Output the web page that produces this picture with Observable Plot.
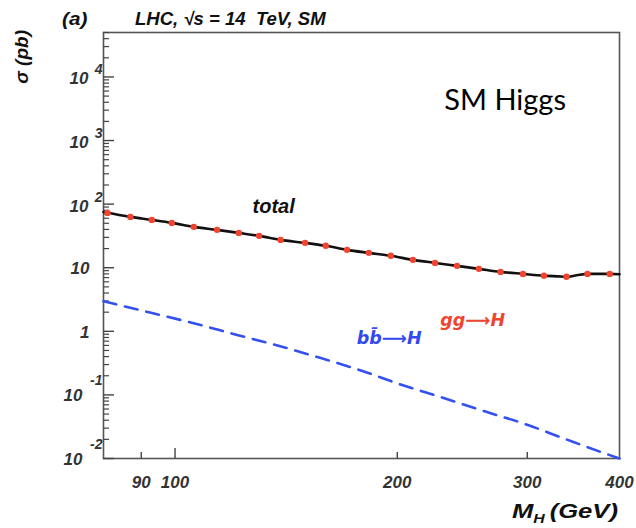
<!DOCTYPE html>
<html><head><meta charset="utf-8">
<script src="https://cdn.jsdelivr.net/npm/d3@7"></script>
<script src="https://cdn.jsdelivr.net/npm/@observablehq/plot@0.6"></script>
<style>
body{margin:0;background:#fff;}
#chart{width:636px;height:528px;}
</style></head><body><div id="chart"></div>
<script>
// ---- data ----
const totalMass = [80, 87, 93, 99, 106, 114, 122, 130, 139, 150, 160, 171, 183, 196, 210, 225, 241, 258, 276, 296, 316, 330, 339, 350, 362, 388, 400];
const totalXsec = [75, 63.0, 56.5, 50.7, 43.9, 39.4, 35.3, 31.7, 27.4, 24.6, 22.1, 19.1, 17.1, 15.4, 13.3, 11.9, 10.7, 9.6, 8.6, 8.0, 7.5, 7.3, 7.2, 7.6, 8.0, 8.0, 7.9];
const ggMass = [81, 87, 93, 99, 106, 114, 122, 130, 139, 150, 160, 171, 183, 196, 210, 225, 241, 258, 276, 296, 316, 339, 362, 388];
const ggXsec = [72.8, 63.0, 56.5, 50.7, 43.9, 39.4, 35.3, 31.7, 27.4, 24.6, 22.1, 19.1, 17.1, 15.4, 13.3, 11.9, 10.7, 9.6, 8.6, 8.0, 7.5, 7.2, 8.0, 8.0];
const bbMass = [80, 92.5, 106, 121, 138, 158, 179, 202, 230, 262, 297, 338, 388, 400];
const bbXsec = [2.97, 1.97, 1.34, 0.885, 0.594, 0.376, 0.240, 0.146, 0.091, 0.0557, 0.0353, 0.0202, 0.0113, 0.0100];

const xTickValues = [90, 100, 200, 300, 400];
const xTickLabels = ["90", "100", "200", "300", "400"];
const xTickLong = [100];
const xTickShort = [90, 200, 300];

const yDecades = [0.01, 0.1, 1, 10, 100, 1000, 10000];
const yTickBase = ["10", "10", "1", "10", "10", "10", "10"];
const yTickExp = ["-2", "-1", "", "", "2", "3", "4"];

const annotText = ["total", "gg\u27F6H", "bb\u0304\u27F6H", "SM Higgs"];
const annotMass = [136, 253, 195, 280];
const annotXsec = [90, 1.47, 0.77, 4170];

const titleTag = "(a)";
const titleText = "LHC, \u221As = 14  TeV, SM";
const yLabel = "\u03C3 (pb)";

// ---- tables ----
const total = totalMass.map((m, i) => ({m, s: totalXsec[i]}));
const gg = ggMass.map((m, i) => ({m, s: ggXsec[i]}));
const bb = bbMass.map((m, i) => ({m, s: bbXsec[i]}));
const yTicks = yDecades.map((v, i) => ({v, base: yTickBase[i], exp: yTickExp[i]}));
const yPlain = yTicks.filter(d => d.exp === "");
const yPos = yTicks.filter(d => d.exp !== "" && !d.exp.startsWith("-"));
const yNeg = yTicks.filter(d => d.exp.startsWith("-"));
const annot = annotText.map((t, i) => ({t, m: annotMass[i], s: annotXsec[i]}));
const yMinor = d3.scaleLog().domain([0.01, 5e4]).ticks().filter(v => !yDecades.some(d => Math.abs(d - v) / d < 1e-9));

const F = "'Liberation Sans', Arial, sans-serif";
const FD = "'DejaVu Sans', sans-serif";
const lab = {fontFamily: F, fontWeight: "bold", fontStyle: "italic", ariaLabel: "stretched"};

const chart = Plot.plot({
  width: 636, height: 528,
  marginLeft: 103, marginRight: 17, marginTop: 32, marginBottom: 70,
  x: {type: "log", domain: [80, 400], axis: null},
  y: {type: "log", domain: [0.01, 5e4], axis: null},
  style: {background: "white", fontFamily: F},
  marks: [
    Plot.frame({stroke: "#555", strokeWidth: 1.6}),
    Plot.tickY(yMinor, {y: d => d, insetRight: 510, stroke: "#444", strokeWidth: 1.2}),
    Plot.tickY(yDecades, {y: d => d, insetRight: 505, stroke: "#444", strokeWidth: 1.4}),
    Plot.tickX(xTickShort, {x: d => d, insetTop: 420, stroke: "#444", strokeWidth: 1.4}),
    Plot.tickX(xTickLong, {x: d => d, insetTop: 416, stroke: "#444", strokeWidth: 1.4}),
    Plot.line(bb, {x: "m", y: "s", stroke: "#3550f0", strokeWidth: 2.6, strokeDasharray: "13,9", curve: "monotone-x"}),
    Plot.line(total, {x: "m", y: "s", stroke: "#111", strokeWidth: 2.6, curve: "monotone-x"}),
    Plot.dot(gg, {x: "m", y: "s", r: 3.2, fill: "#f2452f"}),
    // tick labels
    Plot.text(xTickValues, {...lab, x: d => d, text: (d, i) => xTickLabels[i], frameAnchor: "bottom", dy: 29, fontSize: 17, fill: "#333"}),
    Plot.text(yPlain, {...lab, y: "v", text: "base", frameAnchor: "left", textAnchor: "end", dx: -14, dy: 1, fontSize: 17, fill: "#333"}),
    Plot.text(yPos, {...lab, y: "v", text: "base", frameAnchor: "left", textAnchor: "end", dx: -15, dy: 2, fontSize: 17, fill: "#333"}),
    Plot.text(yPos, {...lab, y: "v", text: "exp", frameAnchor: "left", textAnchor: "end", dx: -1, dy: -7, fontSize: 14, fill: "#333"}),
    Plot.text(yNeg, {...lab, y: "v", text: "base", frameAnchor: "left", textAnchor: "end", dx: -21, dy: 1, fontSize: 17, fill: "#333"}),
    Plot.text(yNeg, {...lab, y: "v", text: "exp", frameAnchor: "left", textAnchor: "end", dx: -1, dy: -14, fontSize: 14, fill: "#333"}),
    // annotations
    Plot.text(annot.slice(0, 1), {...lab, x: "m", y: "s", text: "t", fontSize: 20, fill: "#111"}),
    Plot.text(annot.slice(1, 2), {...lab, fontFamily: FD, x: "m", y: "s", text: "t", fontSize: 17.5, fill: "#ee4530"}),
    Plot.text(annot.slice(2, 3), {...lab, fontFamily: FD, x: "m", y: "s", text: "t", fontSize: 17.5, fill: "#3348ee"}),
    Plot.text(annot.slice(3, 4), {x: "m", y: "s", text: "t", fontSize: 29, fontFamily: "Lato, 'Open Sans', sans-serif", fill: "#000"})
  ]
});

const svg = d3.select(chart);
// stretch italic labels horizontally like the reference
svg.selectAll('g[aria-label="stretched"] text').attr("transform", function() {
  return this.getAttribute("transform") + " scale(1.2,1)";
});
// title
const tstyle = t => t.attr("font-family", F).attr("font-weight", "bold").attr("font-style", "italic").attr("fill", "#111").style("white-space", "pre");
svg.append("text").attr("transform", "translate(62,25) scale(1.15,1)").attr("text-anchor", "start").attr("font-size", 18).text(titleTag).call(tstyle);
svg.append("text").attr("transform", "translate(135,25) scale(1.03,1)").attr("text-anchor", "start").attr("font-size", 18).text(titleText).call(tstyle);
// y label
svg.append("text").attr("transform", "translate(28,30) rotate(-90)").attr("font-size", 19).attr("text-anchor", "end").text(yLabel).call(tstyle);
// x label with subscript
const xl = svg.append("text").attr("transform", "translate(512,518) scale(1.22,1)").attr("text-anchor", "start").attr("font-size", 21).call(tstyle);
xl.append("tspan").text("M");
xl.append("tspan").attr("font-size", 13).attr("dy", 5).text("H");
xl.append("tspan").attr("dy", -5).attr("dx", 4).text("(GeV)");

document.getElementById("chart").append(chart);
</script>
</body></html>
